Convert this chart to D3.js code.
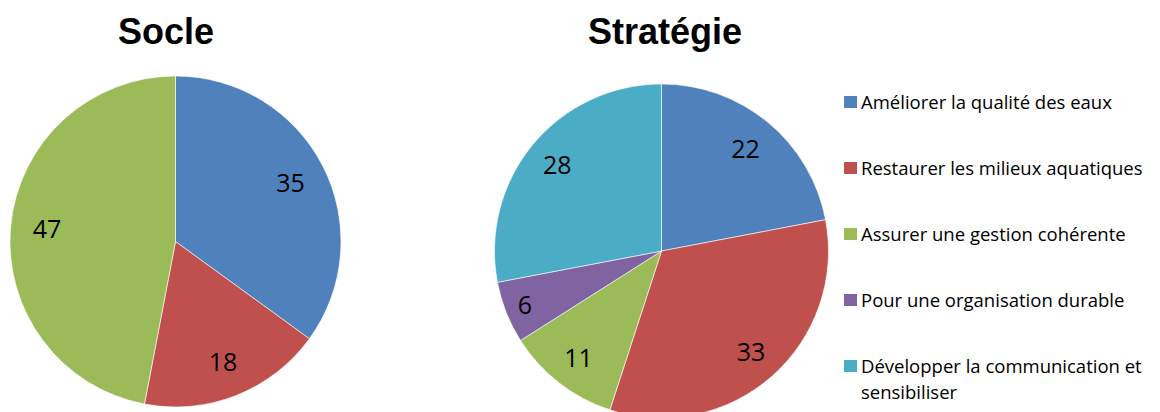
<!DOCTYPE html>
<html>
<head>
<meta charset="utf-8">
<script src="https://cdn.jsdelivr.net/npm/d3@7"></script>
<style>
  body { margin: 0; background: #fff; }
  svg { display: block; }
</style>
</head>
<body>
<svg width="1160" height="412"></svg>
<script>
// categories and values
var categories = ["Améliorer la qualité des eaux", "Restaurer les milieux aquatiques",
  "Assurer une gestion cohérente", "Pour une organisation durable",
  "Développer la communication et sensibiliser"];
var colors = ["#4F81BD", "#C0504D", "#9BBB59", "#8064A2", "#4BACC6"];
var socleValues = [35, 18, 47];
var strategieValues = [22, 33, 11, 6, 28];

var svg = d3.select("svg");
var pie = d3.pie().sort(null).value(function(d){ return d.value; });

function drawPie(title, values, cx, cy, r, titleX, labelR) {
  var g = svg.append("g").attr("transform", "translate(" + cx + "," + cy + ")");
  var data = values.map(function(v, i){ return {value: v, cat: categories[i]}; });
  var arc = d3.arc().innerRadius(0).outerRadius(r);
  var arcs = pie(data);

  g.selectAll("path").data(arcs).enter()
    .append("path")
    .attr("d", arc)
    .style("fill", function(d, i){ return colors[i]; })
    .style("stroke", "#ffffff")
    .style("stroke-width", 0.6);

  g.selectAll("text.lbl").data(arcs).enter()
    .append("text")
    .attr("class", "lbl")
    .attr("transform", function(d){
      var a = (d.startAngle + d.endAngle) / 2;
      var rr = labelR(d) * r;
      return "translate(" + (Math.sin(a) * rr) + "," + (-Math.cos(a) * rr) + ")";
    })
    .attr("text-anchor", "middle")
    .attr("dy", "0.36em")
    .style("font-family", "'Open Sans', sans-serif")
    .style("font-size", "25px")
    .style("fill", "#000")
    .text(function(d){ return d.data.value; });

  svg.append("text")
    .attr("x", titleX).attr("y", 44)
    .attr("text-anchor", "middle")
    .style("font-family", "'Liberation Sans', Arial, sans-serif")
    .style("font-weight", "bold")
    .style("font-size", "36px")
    .text(title);
}

drawPie("Socle", socleValues, 175.5, 241.5, 165.5, 166, function(d){ return 0.78; });
drawPie("Stratégie", strategieValues, 661.5, 251, 167, 665, function(d){
  return d.data.value < 8 ? 0.88 : (d.data.value < 25 && d.data.value > 15 ? 0.79 : 0.81);
});

// legend
var legend = svg.append("g").attr("transform", "translate(844,0)");
var rowY = [103, 169, 235, 301, 367];
var item = legend.selectAll("g").data(categories).enter()
  .append("g")
  .attr("transform", function(d, i){ return "translate(0," + rowY[i] + ")"; });

item.append("rect")
  .attr("x", 0).attr("y", -7)
  .attr("width", 13).attr("height", 12)
  .style("fill", function(d, i){ return colors[i]; });

item.append("text")
  .attr("x", 17).attr("y", 0)
  .attr("dy", "0.35em")
  .style("font-family", "'Open Sans', sans-serif")
  .style("font-size", "18.5px")
  .style("fill", "#000")
  .each(function(d){
    var t = d3.select(this);
    if (d.indexOf("communication et ") > 0) {
      t.append("tspan").attr("x", 17).text("Développer la communication et");
      t.append("tspan").attr("x", 17).attr("dy", "1.4em").text("sensibiliser");
    } else {
      t.text(d);
    }
  });
</script>
</body>
</html>
